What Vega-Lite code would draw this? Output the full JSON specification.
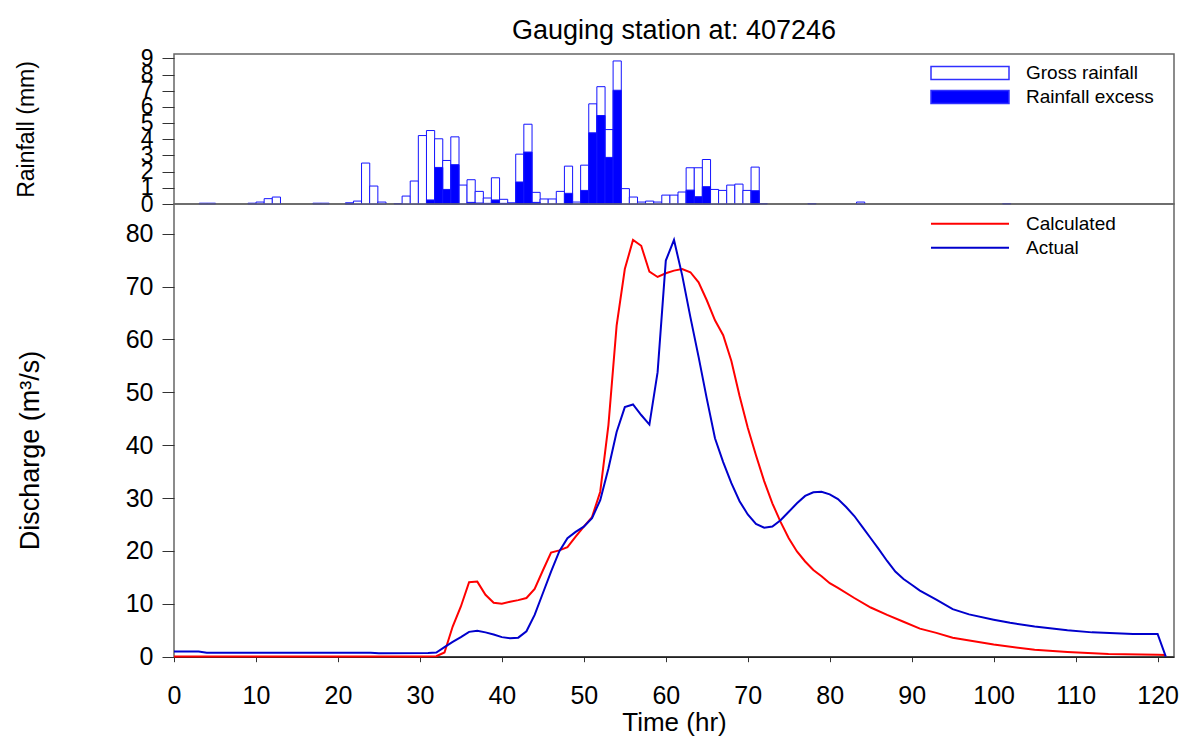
{
  "$schema": "https://vega.github.io/schema/vega-lite/v6.json",
  "padding": {"left": 14, "top": 16, "right": 6, "bottom": 0},
  "spacing": 0,
  "bounds": "flush",
  "config": {
    "font": "Liberation Sans",
    "view": {"stroke": "#666666", "strokeWidth": 1.5},
    "axis": {"grid": false, "domain": false, "labelColor": "#000000", "titleColor": "#000000", "titleFontWeight": "normal", "tickColor": "#333333", "labelFont": "Liberation Sans", "titleFont": "Liberation Sans"},
    "legend": {"labelFont": "Liberation Sans", "labelColor": "#000000"}
  },
  "datasets": {
    "rain": [
      {"hour": 3, "series": "Gross rainfall", "mm": 0.05},
      {"hour": 4, "series": "Gross rainfall", "mm": 0.05},
      {"hour": 9, "series": "Gross rainfall", "mm": 0.05},
      {"hour": 10, "series": "Gross rainfall", "mm": 0.12},
      {"hour": 11, "series": "Gross rainfall", "mm": 0.33},
      {"hour": 12, "series": "Gross rainfall", "mm": 0.43},
      {"hour": 17, "series": "Gross rainfall", "mm": 0.05},
      {"hour": 18, "series": "Gross rainfall", "mm": 0.05},
      {"hour": 21, "series": "Gross rainfall", "mm": 0.06},
      {"hour": 22, "series": "Gross rainfall", "mm": 0.18},
      {"hour": 23, "series": "Gross rainfall", "mm": 2.53},
      {"hour": 24, "series": "Gross rainfall", "mm": 1.11},
      {"hour": 25, "series": "Gross rainfall", "mm": 0.12},
      {"hour": 27, "series": "Gross rainfall", "mm": 0.03},
      {"hour": 28, "series": "Gross rainfall", "mm": 0.49},
      {"hour": 29, "series": "Gross rainfall", "mm": 1.42},
      {"hour": 30, "series": "Gross rainfall", "mm": 4.23},
      {"hour": 31, "series": "Gross rainfall", "mm": 4.54},
      {"hour": 32, "series": "Gross rainfall", "mm": 4.03},
      {"hour": 33, "series": "Gross rainfall", "mm": 2.69},
      {"hour": 34, "series": "Gross rainfall", "mm": 4.15},
      {"hour": 35, "series": "Gross rainfall", "mm": 1.17},
      {"hour": 36, "series": "Gross rainfall", "mm": 1.5},
      {"hour": 37, "series": "Gross rainfall", "mm": 0.78},
      {"hour": 38, "series": "Gross rainfall", "mm": 0.37},
      {"hour": 39, "series": "Gross rainfall", "mm": 1.62},
      {"hour": 40, "series": "Gross rainfall", "mm": 0.29},
      {"hour": 41, "series": "Gross rainfall", "mm": 0.06},
      {"hour": 42, "series": "Gross rainfall", "mm": 3.08},
      {"hour": 43, "series": "Gross rainfall", "mm": 4.93},
      {"hour": 44, "series": "Gross rainfall", "mm": 0.72},
      {"hour": 45, "series": "Gross rainfall", "mm": 0.31},
      {"hour": 46, "series": "Gross rainfall", "mm": 0.31},
      {"hour": 47, "series": "Gross rainfall", "mm": 0.78},
      {"hour": 48, "series": "Gross rainfall", "mm": 2.34},
      {"hour": 49, "series": "Gross rainfall", "mm": 0.12},
      {"hour": 50, "series": "Gross rainfall", "mm": 2.4},
      {"hour": 51, "series": "Gross rainfall", "mm": 6.19},
      {"hour": 52, "series": "Gross rainfall", "mm": 7.25},
      {"hour": 53, "series": "Gross rainfall", "mm": 4.6},
      {"hour": 54, "series": "Gross rainfall", "mm": 8.84},
      {"hour": 55, "series": "Gross rainfall", "mm": 0.95},
      {"hour": 56, "series": "Gross rainfall", "mm": 0.43},
      {"hour": 57, "series": "Gross rainfall", "mm": 0.12},
      {"hour": 58, "series": "Gross rainfall", "mm": 0.18},
      {"hour": 59, "series": "Gross rainfall", "mm": 0.12},
      {"hour": 60, "series": "Gross rainfall", "mm": 0.55},
      {"hour": 61, "series": "Gross rainfall", "mm": 0.55},
      {"hour": 62, "series": "Gross rainfall", "mm": 0.74},
      {"hour": 63, "series": "Gross rainfall", "mm": 2.24},
      {"hour": 64, "series": "Gross rainfall", "mm": 2.24},
      {"hour": 65, "series": "Gross rainfall", "mm": 2.75},
      {"hour": 66, "series": "Gross rainfall", "mm": 0.9},
      {"hour": 67, "series": "Gross rainfall", "mm": 0.84},
      {"hour": 68, "series": "Gross rainfall", "mm": 1.17},
      {"hour": 69, "series": "Gross rainfall", "mm": 1.23},
      {"hour": 70, "series": "Gross rainfall", "mm": 0.84},
      {"hour": 71, "series": "Gross rainfall", "mm": 2.28},
      {"hour": 72, "series": "Gross rainfall", "mm": 0.03},
      {"hour": 78, "series": "Gross rainfall", "mm": 0.03},
      {"hour": 84, "series": "Gross rainfall", "mm": 0.12},
      {"hour": 102, "series": "Gross rainfall", "mm": 0.03},
      {"hour": 21, "series": "Rainfall excess", "mm": 0.06},
      {"hour": 31, "series": "Rainfall excess", "mm": 0.25},
      {"hour": 32, "series": "Rainfall excess", "mm": 2.26},
      {"hour": 33, "series": "Rainfall excess", "mm": 0.9},
      {"hour": 34, "series": "Rainfall excess", "mm": 2.43},
      {"hour": 36, "series": "Rainfall excess", "mm": 0.1},
      {"hour": 37, "series": "Rainfall excess", "mm": 0.06},
      {"hour": 38, "series": "Rainfall excess", "mm": 0.04},
      {"hour": 39, "series": "Rainfall excess", "mm": 0.25},
      {"hour": 40, "series": "Rainfall excess", "mm": 0.04},
      {"hour": 41, "series": "Rainfall excess", "mm": 0.06},
      {"hour": 42, "series": "Rainfall excess", "mm": 1.36},
      {"hour": 43, "series": "Rainfall excess", "mm": 3.21},
      {"hour": 44, "series": "Rainfall excess", "mm": 0.1},
      {"hour": 48, "series": "Rainfall excess", "mm": 0.66},
      {"hour": 50, "series": "Rainfall excess", "mm": 0.84},
      {"hour": 51, "series": "Rainfall excess", "mm": 4.4},
      {"hour": 52, "series": "Rainfall excess", "mm": 5.47},
      {"hour": 53, "series": "Rainfall excess", "mm": 2.88},
      {"hour": 54, "series": "Rainfall excess", "mm": 7.03},
      {"hour": 63, "series": "Rainfall excess", "mm": 0.86},
      {"hour": 64, "series": "Rainfall excess", "mm": 0.45},
      {"hour": 65, "series": "Rainfall excess", "mm": 1.07},
      {"hour": 71, "series": "Rainfall excess", "mm": 0.82}
    ],
    "flow": [
      {"hour": 0, "series": "Calculated", "q": 0.05},
      {"hour": 10, "series": "Calculated", "q": 0.05},
      {"hour": 20, "series": "Calculated", "q": 0.05},
      {"hour": 30, "series": "Calculated", "q": 0.05},
      {"hour": 32, "series": "Calculated", "q": 0.1},
      {"hour": 33, "series": "Calculated", "q": 0.8},
      {"hour": 34, "series": "Calculated", "q": 5.7},
      {"hour": 35, "series": "Calculated", "q": 9.5},
      {"hour": 36, "series": "Calculated", "q": 14.1},
      {"hour": 37, "series": "Calculated", "q": 14.2},
      {"hour": 38, "series": "Calculated", "q": 11.7},
      {"hour": 39, "series": "Calculated", "q": 10.2},
      {"hour": 40, "series": "Calculated", "q": 10.0},
      {"hour": 41, "series": "Calculated", "q": 10.4},
      {"hour": 42, "series": "Calculated", "q": 10.7},
      {"hour": 43, "series": "Calculated", "q": 11.1},
      {"hour": 44, "series": "Calculated", "q": 12.8},
      {"hour": 45, "series": "Calculated", "q": 16.3},
      {"hour": 46, "series": "Calculated", "q": 19.7},
      {"hour": 47, "series": "Calculated", "q": 20.1},
      {"hour": 48, "series": "Calculated", "q": 20.7},
      {"hour": 49, "series": "Calculated", "q": 22.7},
      {"hour": 50, "series": "Calculated", "q": 24.6},
      {"hour": 51, "series": "Calculated", "q": 26.4},
      {"hour": 52, "series": "Calculated", "q": 31.2},
      {"hour": 53, "series": "Calculated", "q": 43.8},
      {"hour": 54, "series": "Calculated", "q": 62.6},
      {"hour": 55, "series": "Calculated", "q": 73.3},
      {"hour": 56, "series": "Calculated", "q": 78.8},
      {"hour": 57, "series": "Calculated", "q": 77.7},
      {"hour": 58, "series": "Calculated", "q": 72.8},
      {"hour": 59, "series": "Calculated", "q": 71.8},
      {"hour": 60, "series": "Calculated", "q": 72.5},
      {"hour": 61, "series": "Calculated", "q": 73.0},
      {"hour": 62, "series": "Calculated", "q": 73.3},
      {"hour": 63, "series": "Calculated", "q": 72.7},
      {"hour": 64, "series": "Calculated", "q": 70.8},
      {"hour": 65, "series": "Calculated", "q": 67.4},
      {"hour": 66, "series": "Calculated", "q": 63.6},
      {"hour": 67, "series": "Calculated", "q": 60.8},
      {"hour": 68, "series": "Calculated", "q": 55.9},
      {"hour": 69, "series": "Calculated", "q": 49.3},
      {"hour": 70, "series": "Calculated", "q": 43.3},
      {"hour": 71, "series": "Calculated", "q": 38.1},
      {"hour": 72, "series": "Calculated", "q": 33.2},
      {"hour": 73, "series": "Calculated", "q": 29.0},
      {"hour": 74, "series": "Calculated", "q": 25.5},
      {"hour": 75, "series": "Calculated", "q": 22.4},
      {"hour": 76, "series": "Calculated", "q": 19.9},
      {"hour": 77, "series": "Calculated", "q": 18.0},
      {"hour": 78, "series": "Calculated", "q": 16.4},
      {"hour": 79, "series": "Calculated", "q": 15.2},
      {"hour": 80, "series": "Calculated", "q": 13.9},
      {"hour": 81, "series": "Calculated", "q": 13.0},
      {"hour": 83, "series": "Calculated", "q": 11.1},
      {"hour": 85, "series": "Calculated", "q": 9.3},
      {"hour": 87, "series": "Calculated", "q": 7.9},
      {"hour": 89, "series": "Calculated", "q": 6.6},
      {"hour": 91, "series": "Calculated", "q": 5.3},
      {"hour": 93, "series": "Calculated", "q": 4.5},
      {"hour": 95, "series": "Calculated", "q": 3.6},
      {"hour": 100, "series": "Calculated", "q": 2.3},
      {"hour": 105, "series": "Calculated", "q": 1.3},
      {"hour": 109, "series": "Calculated", "q": 0.9},
      {"hour": 114, "series": "Calculated", "q": 0.5},
      {"hour": 120, "series": "Calculated", "q": 0.35},
      {"hour": 121, "series": "Calculated", "q": 0.3},
      {"hour": 0, "series": "Actual", "q": 1.0},
      {"hour": 3, "series": "Actual", "q": 1.0},
      {"hour": 4, "series": "Actual", "q": 0.75},
      {"hour": 24, "series": "Actual", "q": 0.75},
      {"hour": 25, "series": "Actual", "q": 0.65},
      {"hour": 31, "series": "Actual", "q": 0.7},
      {"hour": 32, "series": "Actual", "q": 0.8},
      {"hour": 33, "series": "Actual", "q": 1.8},
      {"hour": 34, "series": "Actual", "q": 2.8},
      {"hour": 35, "series": "Actual", "q": 3.7},
      {"hour": 36, "series": "Actual", "q": 4.7},
      {"hour": 37, "series": "Actual", "q": 4.9},
      {"hour": 38, "series": "Actual", "q": 4.6},
      {"hour": 39, "series": "Actual", "q": 4.2},
      {"hour": 40, "series": "Actual", "q": 3.7},
      {"hour": 41, "series": "Actual", "q": 3.5},
      {"hour": 42, "series": "Actual", "q": 3.6},
      {"hour": 43, "series": "Actual", "q": 4.8},
      {"hour": 44, "series": "Actual", "q": 7.9},
      {"hour": 45, "series": "Actual", "q": 12.0},
      {"hour": 46, "series": "Actual", "q": 16.1},
      {"hour": 47, "series": "Actual", "q": 19.9},
      {"hour": 48, "series": "Actual", "q": 22.4},
      {"hour": 49, "series": "Actual", "q": 23.6},
      {"hour": 50, "series": "Actual", "q": 24.6},
      {"hour": 51, "series": "Actual", "q": 26.2},
      {"hour": 52, "series": "Actual", "q": 29.6},
      {"hour": 53, "series": "Actual", "q": 35.6},
      {"hour": 54, "series": "Actual", "q": 42.5},
      {"hour": 55, "series": "Actual", "q": 47.2},
      {"hour": 56, "series": "Actual", "q": 47.7},
      {"hour": 57, "series": "Actual", "q": 45.7},
      {"hour": 58, "series": "Actual", "q": 43.9},
      {"hour": 59, "series": "Actual", "q": 53.8},
      {"hour": 60, "series": "Actual", "q": 74.9},
      {"hour": 61, "series": "Actual", "q": 78.8},
      {"hour": 62, "series": "Actual", "q": 72.1},
      {"hour": 63, "series": "Actual", "q": 64.2},
      {"hour": 64, "series": "Actual", "q": 56.7},
      {"hour": 65, "series": "Actual", "q": 48.8},
      {"hour": 66, "series": "Actual", "q": 41.3},
      {"hour": 67, "series": "Actual", "q": 36.8},
      {"hour": 68, "series": "Actual", "q": 32.8},
      {"hour": 69, "series": "Actual", "q": 29.4},
      {"hour": 70, "series": "Actual", "q": 26.9},
      {"hour": 71, "series": "Actual", "q": 25.1},
      {"hour": 72, "series": "Actual", "q": 24.4},
      {"hour": 73, "series": "Actual", "q": 24.6},
      {"hour": 74, "series": "Actual", "q": 25.8},
      {"hour": 75, "series": "Actual", "q": 27.4},
      {"hour": 76, "series": "Actual", "q": 29.0},
      {"hour": 77, "series": "Actual", "q": 30.4},
      {"hour": 78, "series": "Actual", "q": 31.1},
      {"hour": 79, "series": "Actual", "q": 31.2},
      {"hour": 80, "series": "Actual", "q": 30.7},
      {"hour": 81, "series": "Actual", "q": 29.8},
      {"hour": 82, "series": "Actual", "q": 28.3},
      {"hour": 83, "series": "Actual", "q": 26.6},
      {"hour": 84, "series": "Actual", "q": 24.5},
      {"hour": 85, "series": "Actual", "q": 22.4},
      {"hour": 86, "series": "Actual", "q": 20.3},
      {"hour": 87, "series": "Actual", "q": 18.1},
      {"hour": 88, "series": "Actual", "q": 16.1},
      {"hour": 89, "series": "Actual", "q": 14.7},
      {"hour": 90, "series": "Actual", "q": 13.6},
      {"hour": 91, "series": "Actual", "q": 12.5},
      {"hour": 93, "series": "Actual", "q": 10.8},
      {"hour": 95, "series": "Actual", "q": 9.0},
      {"hour": 97, "series": "Actual", "q": 8.0},
      {"hour": 100, "series": "Actual", "q": 7.0},
      {"hour": 102, "series": "Actual", "q": 6.4},
      {"hour": 105, "series": "Actual", "q": 5.7},
      {"hour": 109, "series": "Actual", "q": 5.0},
      {"hour": 112, "series": "Actual", "q": 4.6},
      {"hour": 117, "series": "Actual", "q": 4.3},
      {"hour": 120, "series": "Actual", "q": 4.3},
      {"hour": 121, "series": "Actual", "q": 0.0}
    ]
  },
  "vconcat": [
    {
      "width": 1000,
      "height": 150,
      "title": {"text": "Gauging station at: 407246", "fontSize": 27, "fontWeight": "normal", "color": "#000000", "frame": "group", "anchor": "middle", "baseline": "alphabetic", "offset": -19},
      "data": {"name": "rain"},
      "mark": {"type": "bar", "width": 8.2, "stroke": "#1414ff", "strokeWidth": 1},
      "encoding": {
        "x": {"field": "hour", "type": "quantitative", "scale": {"domain": [0, 122], "nice": false, "zero": false}, "axis": null},
        "y": {"field": "mm", "type": "quantitative", "stack": null, "scale": {"domain": [0, 9.27], "nice": false},
          "axis": {"title": "Rainfall (mm)", "values": [0, 1, 2, 3, 4, 5, 6, 7, 8, 9], "labelOverlap": false, "labelFontSize": 23, "tickSize": 12, "labelPadding": 9, "titleFontSize": 23, "titleX": -148, "titleY": 75, "titleAngle": -90, "titleBaseline": "middle", "titleAlign": "center"}},
        "fill": {"field": "series", "type": "nominal", "scale": {"domain": ["Gross rainfall", "Rainfall excess"], "range": ["#ffffff", "#0000ff"]},
          "legend": {"title": null, "orient": "none", "legendX": 782, "legendY": 5, "padding": 0, "rowPadding": 0, "symbolType": "M-3,-0.5H3V0.5H-3Z", "symbolSize": 676, "symbolStrokeColor": "#3030ff", "symbolStrokeWidth": 1.5, "symbolOpacity": 1, "labelFontSize": 19, "labelOffset": 42}}
      }
    },
    {
      "width": 1000,
      "height": 452.7,
      "data": {"name": "flow"},
      "mark": {"type": "line", "strokeWidth": 2},
      "encoding": {
        "x": {"field": "hour", "type": "quantitative", "scale": {"domain": [0, 122], "nice": false, "zero": false},
          "axis": {"title": "Time (hr)", "values": [0, 10, 20, 30, 40, 50, 60, 70, 80, 90, 100, 110, 120], "labelFlush": false, "labelOverlap": false, "labelFontSize": 25, "titleFontSize": 26, "tickSize": 5, "labelPadding": 22, "titlePadding": 1, "domain": true, "domainColor": "#222222", "domainWidth": 1.5}},
        "y": {"field": "q", "type": "quantitative", "scale": {"domain": [0, 85.6], "nice": false},
          "axis": {"title": "Discharge (m³/s)", "values": [0, 10, 20, 30, 40, 50, 60, 70, 80], "labelOverlap": false, "labelFontSize": 25, "tickSize": 12, "labelPadding": 9, "titleFontSize": 27, "titleX": -143.7, "titleY": 246, "titleAngle": -90, "titleBaseline": "middle", "titleAlign": "center"}},
        "color": {"field": "series", "type": "nominal", "scale": {"domain": ["Calculated", "Actual"], "range": ["#ff0000", "#0000cc"]},
          "legend": {"title": null, "orient": "none", "legendX": 782, "legendY": 155.7, "padding": 0, "rowPadding": 0, "symbolType": "M-3,0H3", "symbolSize": 676, "symbolStrokeWidth": 2, "labelFontSize": 19, "labelOffset": 42}}
      }
    }
  ]
}
